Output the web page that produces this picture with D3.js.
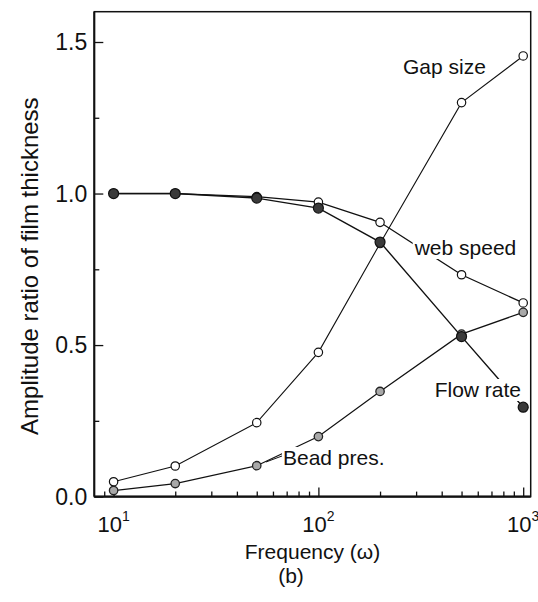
<!DOCTYPE html>
<html>
<head>
<meta charset="utf-8">
<script src="https://cdn.jsdelivr.net/npm/d3@7"></script>
<style>
  html, body { margin: 0; padding: 0; background: #fff; }
  svg { display: block; font-family: "Liberation Sans", Arial, Helvetica, sans-serif; }
</style>
</head>
<body>
<svg id="chart" width="538" height="602"></svg>
<script>
// ---- data ----
const frequency = [10, 20, 50, 100, 200, 500, 1000];
const gapSize   = [0.049, 0.101, 0.244, 0.476, 0.835, 1.300, 1.454];
const webSpeed  = [1.000, 1.000, 0.990, 0.972, 0.905, 0.732, 0.639];
const flowRate  = [1.000, 1.000, 0.985, 0.952, 0.840, 0.528, 0.295];
const beadPres  = [0.020, 0.043, 0.102, 0.198, 0.347, 0.536, 0.608];

const seriesNames = ["Gap size", "web speed", "Flow rate", "Bead pres."];
const xTickValues = [10, 100, 1000];
const xTickExps   = ["1", "2", "3"];
const yTickValues = [0, 0.5, 1.0, 1.5];
const yTickLabels = ["0.0", "0.5", "1.0", "1.5"];
const yMinorTicks = [0.25, 0.75, 1.25];
const xTitle = "Frequency (\u03c9)";
const yTitle = "Amplitude ratio of film thickness";
const caption = "(b)";

// ---- layout ----
const W = 538, H = 602;
const m = { left: 94.3, right: 7.3, top: 11.7, bottom: 105.4 };
const iw = W - m.left - m.right, ih = H - m.top - m.bottom;

const svg = d3.select("#chart");
const g = svg.append("g").attr("transform", `translate(${m.left},${m.top})`);

const x = d3.scaleLog().domain([8.05, 1088]).range([0, iw]);
const y = d3.scaleLinear().domain([0, 1.6]).range([ih, 0]);

// ---- axes (inward ticks) ----
const minorX = [];
[1, 10, 100].forEach(d => { for (let k = 2; k <= 9; k++) minorX.push(d * k); });
const minorXIn = minorX.filter(v => v >= 8.05 && v <= 1088);

const xAxisMajor = d3.axisBottom(x).tickValues(xTickValues).tickSize(-9).tickFormat("");
const xAxisMinor = d3.axisBottom(x).tickValues(minorXIn).tickSize(-5).tickFormat("");
const yAxisMajor = d3.axisLeft(y).tickValues(yTickValues).tickSize(-9).tickFormat("");
const yAxisMinor = d3.axisLeft(y).tickValues(yMinorTicks).tickSize(-5).tickFormat("");

function styleAxis(sel) {
  sel.select(".domain").remove();
  sel.selectAll(".tick line").attr("stroke", "#111").attr("stroke-width", 1.3);
}
g.append("g").attr("transform", `translate(0,${ih})`).call(xAxisMajor).call(styleAxis);
g.append("g").attr("transform", `translate(0,${ih})`).call(xAxisMinor).call(styleAxis);
g.append("g").call(yAxisMajor).call(styleAxis);
g.append("g").call(yAxisMinor).call(styleAxis);

// frame
g.append("rect").attr("x", 0).attr("y", 0).attr("width", iw).attr("height", ih)
  .attr("fill", "none").attr("stroke", "#111").attr("stroke-width", 1.5);
g.append("line").attr("x1", 0).attr("x2", iw).attr("y1", ih).attr("y2", ih)
  .attr("stroke", "#111").attr("stroke-width", 2.2);
g.append("line").attr("x1", 0).attr("x2", 0).attr("y1", 0).attr("y2", ih)
  .attr("stroke", "#111").attr("stroke-width", 2);

// tick labels
g.selectAll(".ylab").data(yTickValues).enter().append("text")
  .attr("x", -7).attr("y", d => y(d)).attr("dy", "0.36em")
  .attr("text-anchor", "end").attr("font-size", 23).attr("fill", "#111")
  .text((d, i) => yTickLabels[i]);

const xl = g.selectAll(".xlab").data(xTickValues).enter().append("text")
  .attr("x", d => x(d)).attr("y", ih + 35)
  .attr("text-anchor", "middle").attr("font-size", 22).attr("fill", "#111");
xl.append("tspan").text("10");
xl.append("tspan").attr("font-size", 14).attr("dy", -11).text((d, i) => xTickExps[i]);

// axis titles
svg.append("text").attr("x", m.left + iw / 2).attr("y", 559)
  .attr("text-anchor", "middle").attr("font-size", 21).attr("fill", "#111").text(xTitle);
svg.append("text").attr("x", 291).attr("y", 583)
  .attr("text-anchor", "middle").attr("font-size", 21).attr("fill", "#111").text(caption);
svg.append("text").attr("transform", `translate(38,${m.top + ih / 2 + 12}) rotate(-90)`)
  .attr("text-anchor", "middle").attr("font-size", 24).attr("fill", "#111").text(yTitle);

// ---- series lines ----
const line = d3.line().x(d => x(d[0])).y(d => y(d[1]));
const zip = vals => frequency.map((f, i) => [f, vals[i]]);

const lines = [
  { v: gapSize, w: 1.1 },
  { v: webSpeed, w: 1.3 },
  { v: beadPres, w: 1.2 },
  { v: flowRate, w: 1.4 }
];
lines.forEach(s => {
  g.append("path").datum(zip(s.v)).attr("d", line)
    .attr("fill", "none").attr("stroke", "#111").attr("stroke-width", s.w);
});

// ---- labels with white background masking lines ----
const labelPos = [
  { name: seriesNames[0], lx: 403 - m.left, ly: 74 - m.top },
  { name: seriesNames[1], lx: 414.7 - m.left, ly: 255 - m.top },
  { name: seriesNames[2], lx: 434.7 - m.left, ly: 397 - m.top },
  { name: seriesNames[3], lx: 283 - m.left, ly: 465 - m.top }
];
labelPos.forEach(l => {
  const bg = g.append("rect").attr("fill", "#fff");
  const t = g.append("text").attr("x", l.lx).attr("y", l.ly)
    .attr("font-size", 21).attr("fill", "#111").text(l.name);
  const b = t.node().getBBox();
  bg.attr("x", b.x - 1).attr("y", b.y + 1).attr("width", b.width + 2).attr("height", b.height - 1);
});

// Bead pres. leader
g.append("line")
  .attr("x1", 266 - m.left).attr("y1", 462 - m.top)
  .attr("x2", 282 - m.left).attr("y2", 456 - m.top)
  .attr("stroke", "#111").attr("stroke-width", 1);

// ---- markers ----
function markers(vals, r, fill, stroke, sw) {
  g.append("g").selectAll("circle").data(zip(vals)).enter().append("circle")
    .attr("cx", d => x(d[0])).attr("cy", d => y(d[1])).attr("r", r)
    .attr("fill", fill).attr("stroke", stroke).attr("stroke-width", sw);
}
markers(gapSize, 4.2, "#fff", "#111", 1.2);
markers(webSpeed, 4.2, "#fff", "#111", 1.2);
markers(beadPres, 4.2, "#a8a8a8", "#222", 1.3);
markers(flowRate, 5, "#3a3a3a", "#111", 1.2);
</script>
</body>
</html>
